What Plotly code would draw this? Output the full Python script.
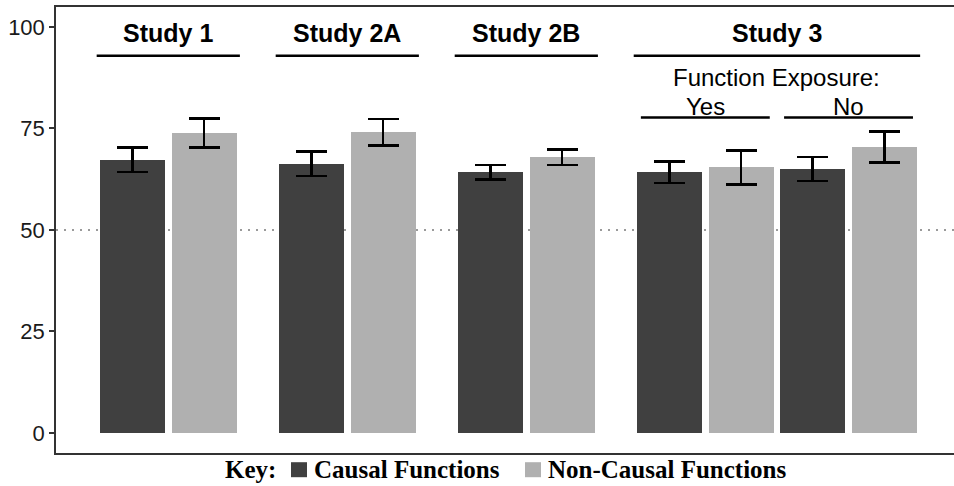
import plotly.graph_objects as go

# ---- data -------------------------------------------------------------
studies = ["Study 1", "Study 2A", "Study 2B", "Study 3", "Study 3"]
exposure = [None, None, None, "Yes", "No"]
causal_mean = [67.3, 66.3, 64.2, 64.2, 65.0]
causal_err = [3.05, 3.0, 1.8, 2.7, 3.0]
noncausal_mean = [73.9, 74.1, 67.9, 65.4, 70.4]
noncausal_err = [3.6, 3.25, 1.9, 4.15, 3.85]
y_ticks = [0, 25, 50, 75, 100]
chance_level = 50
series_names = ["Causal Functions", "Non-Causal Functions"]
colors = ["#404040", "#b0b0b0"]

# ---- bar positions: pairs of bars, a half-slot gap between studies ----
pos_c, pos_n = [], []
cursor = 0.0
prev = None
for s in studies:
    if prev is not None and s != prev:
        cursor += 0.5
    pos_c.append(cursor)
    pos_n.append(cursor + 1)
    cursor += 2
    prev = s

BAR_W = 0.908
SANS = "Liberation Sans, Arial, sans-serif"
SERIF = "Liberation Serif, Times New Roman, serif"

fig = go.Figure()
for pos, mean, err, name, col in [
    (pos_c, causal_mean, causal_err, series_names[0], colors[0]),
    (pos_n, noncausal_mean, noncausal_err, series_names[1], colors[1]),
]:
    fig.add_trace(go.Bar(
        x=pos, y=mean, width=BAR_W, name=name,
        marker=dict(color=col, line=dict(width=0)),
        error_y=dict(type="data", array=err, visible=True,
                     color="black", thickness=2.5, width=15.5),
        showlegend=False,
    ))

shapes = []
annotations = []

# chance-level reference line
shapes.append(dict(type="line", xref="paper", x0=0, x1=1, yref="y",
                   y0=chance_level, y1=chance_level, layer="below",
                   line=dict(color="#9a9a9a", width=2, dash="2px,6px")))

# study headers with underlines
seen = []
for s in studies:
    if s in seen:
        continue
    seen.append(s)
    idx = [i for i, t in enumerate(studies) if t == s]
    x0 = pos_c[idx[0]] - 0.5
    x1 = pos_n[idx[-1]] + 0.5
    annotations.append(dict(x=(x0 + x1) / 2, y=98.5, xref="x", yref="y",
                            text="<b>%s</b>" % s, showarrow=False,
                            font=dict(family=SANS, size=25, color="black")))
    shapes.append(dict(type="line", xref="x", yref="y", x0=x0, x1=x1,
                       y0=92.9, y1=92.9, line=dict(color="black", width=2.5)))

# function-exposure sub-headers for Study 3
sub_idx = [i for i, e in enumerate(exposure) if e is not None]
if sub_idx:
    xa = pos_c[sub_idx[0]] - 0.5
    xb = pos_n[sub_idx[-1]] + 0.5
    annotations.append(dict(x=(xa + xb) / 2, y=87.6, xref="x", yref="y",
                            text="Function Exposure:", showarrow=False,
                            font=dict(family=SANS, size=24, color="black")))
    for i in sub_idx:
        annotations.append(dict(x=(pos_c[i] + pos_n[i]) / 2, y=80.5,
                                xref="x", yref="y", text=exposure[i],
                                showarrow=False,
                                font=dict(family=SANS, size=24, color="black")))
        shapes.append(dict(type="line", xref="x", yref="y",
                           x0=pos_c[i] - 0.4, x1=pos_n[i] + 0.4,
                           y0=77.7, y1=77.7,
                           line=dict(color="black", width=2.5)))

# key below the panel (pixel positions converted to plot-area paper coords)
W, H = 954, 486
L, T, B = 56, 7.3, 453.3


def px_x(px):
    return (px - L) / (W - L)


def px_y(py):
    return (B - py) / (B - T)


annotations.append(dict(x=px_x(223), y=px_y(470), xref="paper", yref="paper",
                        xanchor="left", yanchor="middle", showarrow=False,
                        text="<b>Key:</b>",
                        font=dict(family=SERIF, size=25, color="black")))
for sq_x, txt_x, name, col in [(291, 312, series_names[0], colors[0]),
                               (525, 546, series_names[1], colors[1])]:
    shapes.append(dict(type="rect", xref="paper", yref="paper",
                       x0=px_x(sq_x), x1=px_x(sq_x + 16),
                       y0=px_y(462.5), y1=px_y(477.5),
                       fillcolor=col, line=dict(width=0)))
    annotations.append(dict(x=px_x(txt_x), y=px_y(470), xref="paper",
                            yref="paper", xanchor="left", yanchor="middle",
                            showarrow=False, text="<b>%s</b>" % name,
                            font=dict(family=SERIF, size=25, color="black")))

fig.update_layout(
    width=W, height=H,
    margin=dict(l=56, r=0, t=7, b=33, pad=0),
    plot_bgcolor="white", paper_bgcolor="white",
    shapes=shapes, annotations=annotations,
    xaxis=dict(range=[-1.068, 11.473], showgrid=False, zeroline=False,
               showticklabels=False, ticks="", showline=True, mirror=True,
               linecolor="#333333", linewidth=1.5),
    yaxis=dict(range=[-4.93, 104.9], showgrid=False, zeroline=False,
               tickvals=y_ticks, ticks="outside", ticklen=5, tickwidth=1.5,
               tickcolor="#333333", showline=True, linecolor="#333333",
               linewidth=1.5,
               tickfont=dict(family=SANS, size=22, color="#1a1a1a")),
    bargap=0,
)

fig.write_html("out.html")
